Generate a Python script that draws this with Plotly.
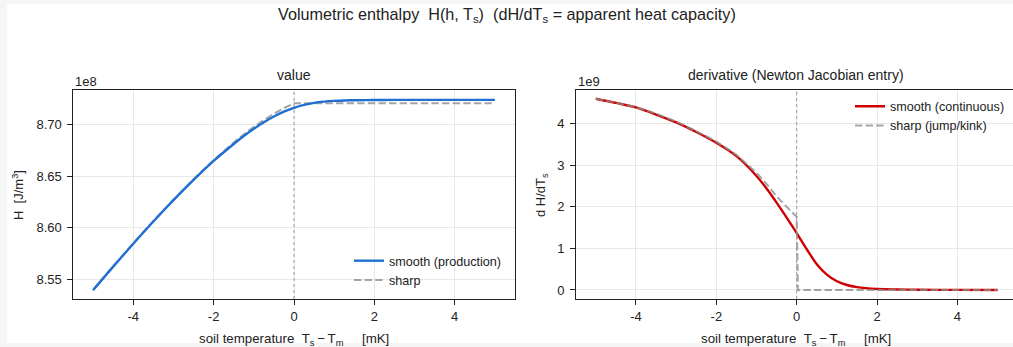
import plotly.graph_objects as go

# ---------------- data ----------------
T_smooth = [-5, -4.5, -4, -3.5, -3, -2.5, -2, -1.5, -1.25, -1, -0.75, -0.5, -0.25, 0,
            0.25, 0.5, 0.75, 1, 1.25, 1.5, 2, 2.5, 3, 4, 5]          # mK
H_smooth = [8.5395, 8.5623, 8.5845, 8.6060, 8.6266, 8.6462, 8.6646, 8.6810,
            8.6887, 8.6957, 8.7020, 8.7075, 8.7122, 8.7160, 8.7188, 8.7208,
            8.7220, 8.7227, 8.7231, 8.7233, 8.7235, 8.7236, 8.7236, 8.7236,
            8.7236]                                                  # 1e8 J/m3
dH_smooth = [4.60, 4.50, 4.39, 4.22, 4.03, 3.80, 3.54, 3.22, 3.00, 2.74, 2.44,
             2.10, 1.74, 1.37, 0.98, 0.62, 0.37, 0.21, 0.12, 0.07, 0.025,
             0.012, 0.006, 0.002, 0.001]                             # 1e9 J/m3/K

T_sharp = [-5, -4.5, -4, -3.5, -3, -2.5, -2, -1.5, -1, -0.75, -0.5, -0.25, 0,
           1, 2, 3, 4, 5]
H_sharp = [8.5400, 8.5628, 8.5850, 8.6066, 8.6273, 8.6470, 8.6655, 8.6825,
           8.6977, 8.7044, 8.7104, 8.7157, 8.7204, 8.7204, 8.7204, 8.7204,
           8.7204, 8.7204]
T_dsharp = [-5, -4.5, -4, -3.5, -3, -2.5, -2, -1.5, -1, -0.75, -0.5, -0.25, 0,
            0.03, 5]
dH_sharp = [4.60, 4.50, 4.40, 4.24, 4.05, 3.82, 3.57, 3.25, 2.82, 2.55, 2.25,
            2.00, 1.76, 0.0, 0.0]

x_ticks = [-4, -2, 0, 2, 4]
x_ticktext = ["-4", "-2", "0", "2", "4"]
H_ticks = [8.55, 8.60, 8.65, 8.70]
H_ticktext = ["8.55", "8.60", "8.65", "8.70"]
D_ticks = [0, 1, 2, 3, 4]
D_ticktext = ["0", "1", "2", "3", "4"]

# ---------------- layout helpers ----------------
W, H = 1013, 347
ML, MR, MT, MB = 73, 0, 90, 48
PW, PH = W - ML - MR, H - MT - MB


def fx(px):
    return (px - ML) / PW


def fy(py):
    return (H - MB - py) / PH


FONT = "Liberation Sans, Arial, sans-serif"
BLUE = "#1f6fd2"
RED = "#d10000"
GRAY = "rgba(140,140,140,0.78)"
DASH = "7.4px,3.2px"

fig = go.Figure()

# left panel
fig.add_trace(go.Scatter(x=T_sharp, y=[v * 1e8 for v in H_sharp], mode="lines",
                         name="sharp", line=dict(color=GRAY, width=2, dash=DASH),
                         xaxis="x", yaxis="y", legend="legend", legendrank=2))
fig.add_trace(go.Scatter(x=T_smooth, y=[v * 1e8 for v in H_smooth], mode="lines",
                         name="smooth (production)",
                         line=dict(color=BLUE, width=2.4, shape="spline", smoothing=0.8),
                         xaxis="x", yaxis="y", legend="legend", legendrank=1))
# right panel
fig.add_trace(go.Scatter(x=T_smooth, y=[v * 1e9 for v in dH_smooth], mode="lines",
                         name="smooth (continuous)",
                         line=dict(color=RED, width=2.4, shape="spline", smoothing=0.8),
                         xaxis="x2", yaxis="y2", legend="legend2", legendrank=1))
fig.add_trace(go.Scatter(x=T_dsharp, y=[v * 1e9 for v in dH_sharp], mode="lines",
                         name="sharp (jump/kink)", line=dict(color=GRAY, width=2, dash=DASH),
                         xaxis="x2", yaxis="y2", legend="legend2", legendrank=2))

axis_common = dict(
    showline=True, linecolor="#222", linewidth=1.2,
    ticks="outside", ticklen=4.5, tickwidth=1.1, tickcolor="#222",
    showgrid=True, gridcolor="#e8e8e8", gridwidth=0.9,
    zeroline=False, tickfont=dict(family=FONT, size=13, color="#222"),
)

fig.update_layout(
    width=W, height=H,
    margin=dict(l=ML, r=MR, t=MT, b=MB, autoexpand=False),
    paper_bgcolor="#f5f5f5", plot_bgcolor="white",
    font=dict(family=FONT, size=13, color="#222"),
    xaxis=dict(domain=[0, fx(515)], range=[-5.5, 5.5], tickvals=x_ticks,
               ticktext=x_ticktext, mirror=True, anchor="y", ticklabelstandoff=1,
               **axis_common),
    yaxis=dict(domain=[0, 1], range=[8.531e8, 8.7332e8], tickvals=[v * 1e8 for v in H_ticks],
               ticktext=H_ticktext, mirror=True, anchor="x", ticklabelstandoff=3,
               **axis_common),
    xaxis2=dict(domain=[fx(575.7), 1], range=[-5.5, 5.383], tickvals=x_ticks,
                ticktext=x_ticktext, mirror=True, anchor="y2", ticklabelstandoff=1,
                **axis_common),
    yaxis2=dict(domain=[0, 1], range=[-0.217e9, 4.81e9], tickvals=[v * 1e9 for v in D_ticks],
                ticktext=D_ticktext, mirror=False, anchor="x2", ticklabelstandoff=3,
                **axis_common),
    legend=dict(x=fx(349), y=fy(246), xanchor="left", yanchor="top",
                bgcolor="rgba(0,0,0,0)", font=dict(family=FONT, size=12.6, color="#222"),
                itemwidth=30, tracegroupgap=0),
    legend2=dict(x=fx(850), y=fy(91.5), xanchor="left", yanchor="top",
                 bgcolor="rgba(0,0,0,0)", font=dict(family=FONT, size=12.6, color="#222"),
                 itemwidth=30, tracegroupgap=0),
    showlegend=True,
)

shapes = [
    # white page card over light-gray page background
    dict(type="rect", xref="paper", yref="paper", x0=fx(7), x1=fx(1020),
         y0=fy(343), y1=fy(4), fillcolor="white", line=dict(width=0), layer="below"),
    dict(type="line", xref="x", yref="y domain", x0=0, x1=0, y0=0, y1=1,
         line=dict(color="#999", width=1, dash="dot"), layer="above"),
    dict(type="line", xref="x2", yref="y2 domain", x0=0, x1=0, y0=0, y1=1,
         line=dict(color="#999", width=1, dash="dot"), layer="above"),
]
fig.update_layout(shapes=shapes)

XTITLE = ("soil temperature\u00a0\u00a0T<sub>s</sub>\u2009\u2212\u2009T<sub>m</sub>"
          "\u00a0\u00a0\u00a0\u00a0\u00a0[mK]")
ann = [
    dict(text="Volumetric enthalpy\u00a0\u00a0H(h, T<sub>s</sub>)\u00a0\u00a0(dH/dT<sub>s</sub> = apparent heat capacity)",
         x=fx(507), y=fy(15), font=dict(size=16.2)),
    dict(text="value", x=fx(294), y=fy(75), font=dict(size=14)),
    dict(text="derivative (Newton Jacobian entry)", x=fx(796), y=fy(75), font=dict(size=14)),
    dict(text="1e8", x=fx(73), y=fy(81), xanchor="left", font=dict(size=13)),
    dict(text="1e9", x=fx(576), y=fy(81), xanchor="left", font=dict(size=13)),
    dict(text="H\u00a0\u00a0[J/m<sup>3</sup>]", x=fx(18), y=fy(195), textangle=-90, font=dict(size=13)),
    dict(text="d H/dT<sub>s</sub>", x=fx(541), y=fy(195), textangle=-90, font=dict(size=13)),
    dict(text=XTITLE, x=fx(294), y=fy(339), font=dict(size=13.3)),
    dict(text=XTITLE, x=fx(796), y=fy(339), font=dict(size=13.3)),
]
for a in ann:
    a.setdefault("xanchor", "center")
    a.update(xref="paper", yref="paper", yanchor="middle", showarrow=False)
    a["font"] = dict(family=FONT, color="#222", **a["font"])
fig.update_layout(annotations=ann)

fig.write_html(
    "out.html",
    config={"displayModeBar": False},
    post_script="document.body.style.margin='0';document.body.style.overflow='hidden';",
)
